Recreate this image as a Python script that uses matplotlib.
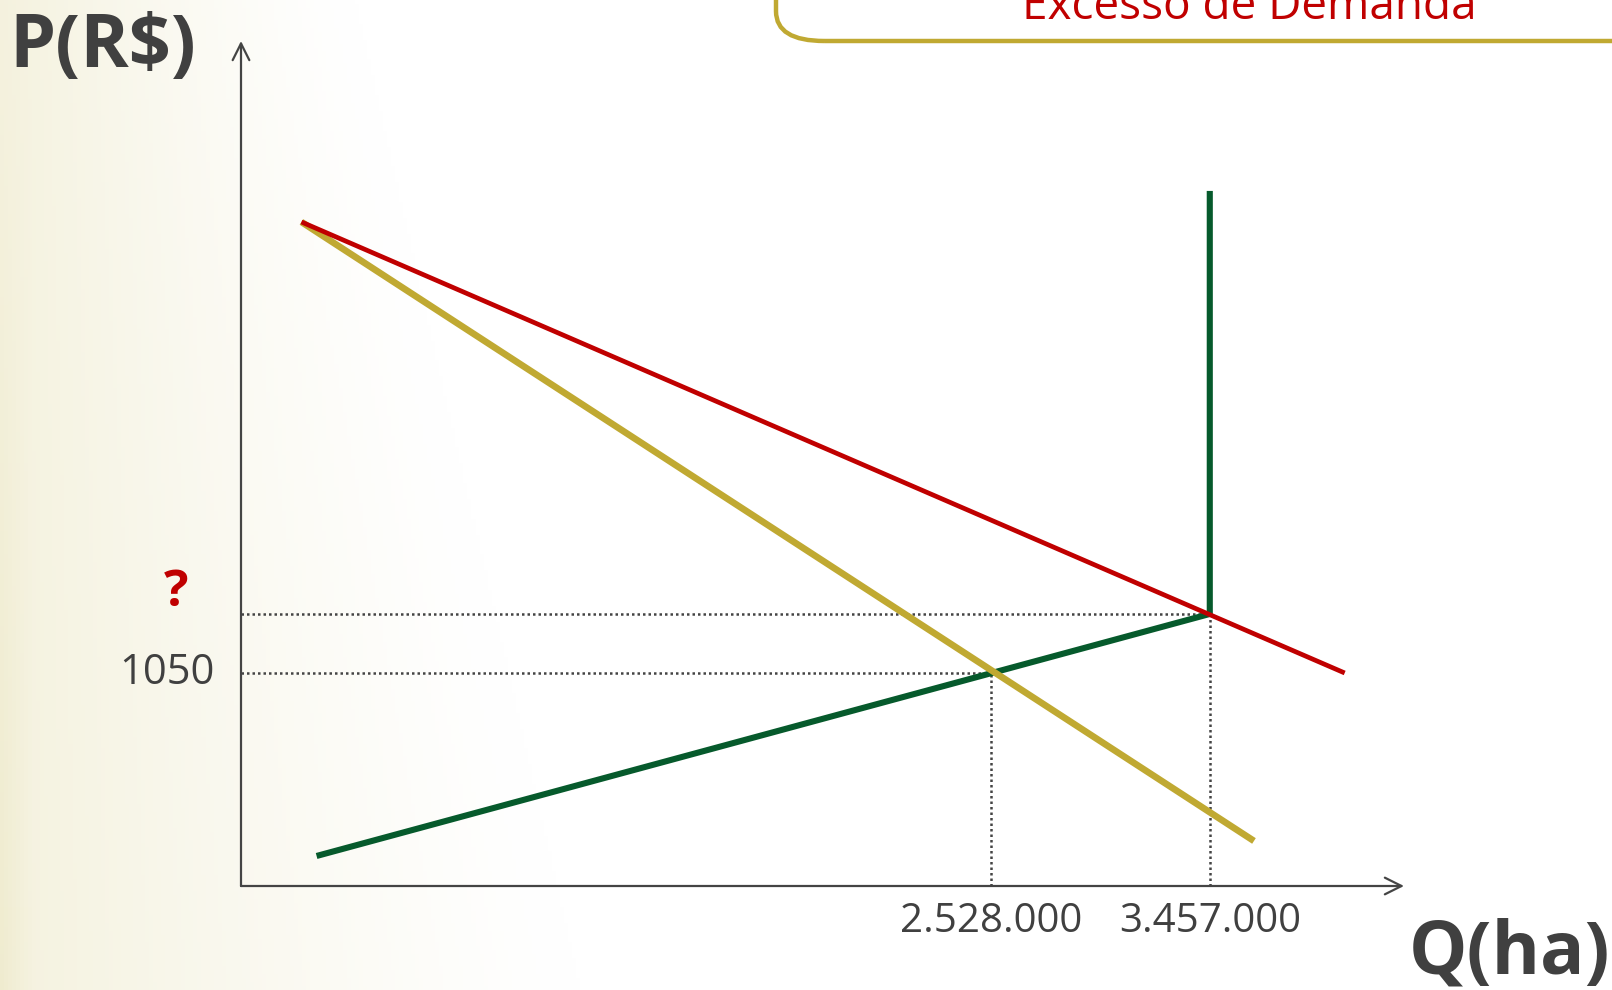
import numpy as np
import matplotlib.pyplot as plt
from matplotlib.patches import FancyBboxPatch

# schematic quantity axis (0-100) and price in R$
q_ticks = [64.5, 83.3]
q_labels = ['2.528.000', '3.457.000']
p_known = 1050
p_unknown = 1341

# demand curves (start, end)
demand_total_q = [5.2, 94.9]
demand_total_p = [3273, 1050]
demand_dom_q = [5.2, 87.1]
demand_dom_p = [3273, 222]
# supply: sloped part then vertical at capacity
supply_q = [6.5, 83.3, 83.3]
supply_p = [148, 1341, 3426]

W, H = 1612, 990
fig = plt.figure(figsize=(W / 100, H / 100), dpi=100)

# soft cream background on the left
bg = fig.add_axes([0, 0, 1, 1], zorder=-5)
xx, yy = np.meshgrid(np.linspace(0, 1, 400), np.linspace(0, 1, 250))
a = np.clip(1 - xx / (0.22 + 0.14 * yy), 0, 1) ** 1.3 * 0.55
a += np.clip(1 - xx / 0.02, 0, 1) * 0.25 * yy
cream = np.array([236, 231, 196]) / 255.0
img = 1 - a[..., None] * (1 - cream)
bg.imshow(img, extent=[0, 1, 0, 1], aspect='auto', origin='upper')
bg.set_xlim(0, 1)
bg.set_ylim(0, 1)
bg.axis('off')

# title box (clipped at top/right)
box = FancyBboxPatch((776 / W, (990 - 41) / H), 1000 / W, 200 / H,
                     boxstyle='round,pad=0,rounding_size=0.03',
                     transform=fig.transFigure, fill=False,
                     edgecolor='#C0A932', linewidth=3.2, clip_on=False)
fig.patches.append(box)
fig.text(1249 / W, (990 - 19) / H, 'Excesso de Demanda', color='#C00000',
         fontsize=33, ha='center', va='baseline',
         family=['Open Sans', 'DejaVu Sans'])

ax = fig.add_axes([241 / W, (990 - 886) / H, 1163 / W, 845 / H])
ax.set_xlim(0, 100)
ax.set_ylim(0, 4165)
ax.axis('off')

axis_col = '#444444'
ax.annotate('', xy=(0, 1), xytext=(0, 0), xycoords='axes fraction',
            arrowprops=dict(arrowstyle='->', lw=1.6, color=axis_col,
                            mutation_scale=30, shrinkA=0, shrinkB=0))
ax.annotate('', xy=(1, 0), xytext=(0, 0), xycoords='axes fraction',
            arrowprops=dict(arrowstyle='->', lw=1.6, color=axis_col,
                            mutation_scale=30, shrinkA=0, shrinkB=0))

# dotted guides
dot = dict(color='#444444', lw=1.8, linestyle=(0, (1, 1.2)), zorder=1)
ax.plot([0, q_ticks[1]], [p_unknown, p_unknown], **dot)
ax.plot([0, q_ticks[0]], [p_known, p_known], **dot)
ax.plot([q_ticks[0], q_ticks[0]], [0, p_known], **dot)
ax.plot([q_ticks[1], q_ticks[1]], [0, p_unknown], **dot)

ax.plot(supply_q, supply_p, color='#065A2C', lw=4.4, zorder=2,
        solid_capstyle='butt', solid_joinstyle='miter')
ax.plot(demand_dom_q, demand_dom_p, color='#C0A932', lw=4.8, zorder=3,
        solid_capstyle='butt')
ax.plot(demand_total_q, demand_total_p, color='#C00000', lw=3.4, zorder=4,
        solid_capstyle='butt')

for q, lab in zip(q_ticks, q_labels):
    ax.annotate(lab, xy=(q, 0), xytext=(0, -11), textcoords='offset points',
                ha='center', va='top', fontsize=29, color='#404040',
                family=['Open Sans', 'DejaVu Sans'], annotation_clip=False)

ax.annotate(str(p_known), xy=(0, p_known), xytext=(-19, 0),
            textcoords='offset points', ha='right', va='center',
            fontsize=30, color='#404040', family=['Open Sans', 'DejaVu Sans'],
            annotation_clip=False)
ax.annotate('?', xy=(0, p_unknown), xytext=(-47, 15),
            textcoords='offset points', ha='center', va='center',
            fontsize=37, fontweight='bold', color='#C00000',
            family=['Open Sans', 'DejaVu Sans'], annotation_clip=False)

fig.text(103 / W, (990 - 48) / H, 'P(R$)', fontsize=53, fontweight='bold',
         color='#404040', ha='center', va='center',
         family=['Open Sans', 'DejaVu Sans'])
fig.text(1510 / W, (990 - 955) / H, 'Q(ha)', fontsize=53, fontweight='bold',
         color='#404040', ha='center', va='center',
         family=['Open Sans', 'DejaVu Sans'])

fig.savefig('out.png', dpi=100)
